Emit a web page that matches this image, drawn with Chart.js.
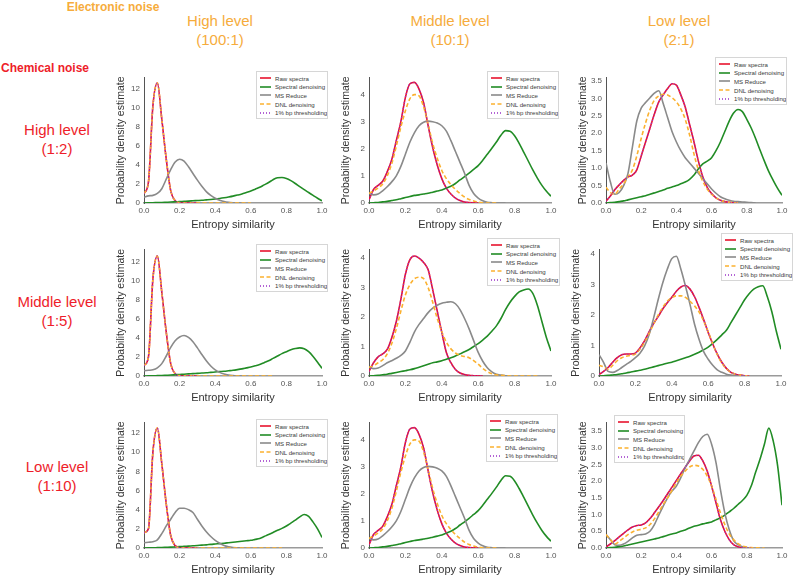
<!DOCTYPE html>
<html>
<head>
<meta charset="utf-8">
<script src="https://cdn.jsdelivr.net/npm/chart.js@4.4.1/dist/chart.umd.min.js"></script>
<style>
  body { margin: 0; background: #fff; width: 795px; height: 576px; position: relative; overflow: hidden;
         font-family: "Liberation Sans", Arial, sans-serif; }
  .txt { position: absolute; text-align: center; white-space: nowrap; transform: translateX(-50%); }
  .orange { color: #f6ac3c; }
  .red { color: #ee1d2a; }
  .big { font-size: 15px; line-height: 19px; }
  .head { font-weight: bold; font-size: 12px; line-height: 14px; }
  .legend { position: absolute; background: #fff; border: 1px solid #d6d6d6; box-sizing: border-box;
            padding: 2px 1px 1px 3px; font-size: 6.1px; color: #3a3a3a; overflow: hidden; }
  .legend .row { height: 8.6px; display: flex; align-items: center; white-space: nowrap; }
  .legend svg { display: block; margin-right: 4px; flex: none; }
</style>
</head>
<body>
<div class="txt orange head" style="left:113px;top:0px">Electronic noise</div>
<div class="txt orange big" style="left:220px;top:11px">High level<br>(100:1)</div>
<div class="txt orange big" style="left:450px;top:11px">Middle level<br>(10:1)</div>
<div class="txt orange big" style="left:679px;top:11px">Low level<br>(2:1)</div>
<div class="txt red head" style="left:45px;top:61px">Chemical noise</div>
<div class="txt red big" style="left:57px;top:120px">High level<br>(1:2)</div>
<div class="txt red big" style="left:57px;top:292px">Middle level<br>(1:5)</div>
<div class="txt red big" style="left:57px;top:457px">Low level<br>(1:10)</div>

<script>
// entropy similarity grid (step 0.025)
const xGrid = [0, 0.025, 0.05, 0.075, 0.1, 0.125, 0.15, 0.175, 0.2, 0.225, 0.25, 0.275, 0.3, 0.325, 0.35,
  0.375, 0.4, 0.425, 0.45, 0.475, 0.5, 0.525, 0.55, 0.575, 0.6, 0.625, 0.65, 0.675, 0.7, 0.725, 0.75,
  0.775, 0.8, 0.825, 0.85, 0.875, 0.9, 0.925, 0.95, 0.975, 1.0];

const seriesNames = ['Raw spectra', 'Spectral denoising', 'MS Reduce', 'DNL denoising', '1% bp thresholding'];

// chemical high / electronic high
const p11Raw = [1.0, 2.2, 10.2, 12.6, 8.8, 4.6, 1.3, 0.25, 0.04, 0.01, 0, 0, 0];
const p11Spec = [0, 0.015, 0.03, 0.045, 0.06, 0.08, 0.1, 0.125, 0.15, 0.175, 0.2, 0.23, 0.26, 0.29, 0.33, 0.37, 0.42, 0.48, 0.55, 0.63, 0.72, 0.83, 0.95, 1.1, 1.25, 1.45, 1.65, 1.9, 2.15, 2.45, 2.65, 2.68, 2.58, 2.35, 2.05, 1.72, 1.4, 1.1, 0.8, 0.5, 0.22];
const p11Ms = [0.6, 0.75, 0.8, 1.0, 1.5, 2.5, 3.5, 4.3, 4.6, 4.4, 3.8, 3.1, 2.4, 1.75, 1.2, 0.8, 0.5, 0.3, 0.15, 0.07, 0.03, 0.01, 0];
const p11Dnl = [1.0, 2.2, 10.2, 12.6, 8.8, 4.6, 1.3, 0.25, 0.04, 0.01, 0, 0, 0, 0, 0, 0, 0, 0, 0, 0, 0, 0, 0, 0, 0];

// chemical high / electronic middle
const p12Raw = [0.12, 0.5, 0.65, 0.8, 1.15, 1.6, 2.3, 3.0, 3.9, 4.4, 4.45, 4.2, 3.7, 2.85, 2.05, 1.4, 0.9, 0.55, 0.33, 0.18, 0.09, 0.04, 0.015, 0.005, 0];
const p12Spec = [0, 0.01, 0.02, 0.04, 0.06, 0.09, 0.12, 0.16, 0.2, 0.24, 0.28, 0.3, 0.33, 0.36, 0.4, 0.44, 0.48, 0.55, 0.62, 0.72, 0.85, 0.97, 1.1, 1.24, 1.38, 1.58, 1.8, 2.02, 2.25, 2.5, 2.67, 2.65, 2.48, 2.2, 1.88, 1.55, 1.22, 0.92, 0.65, 0.43, 0.25];
const p12Ms = [0.35, 0.3, 0.33, 0.45, 0.6, 0.78, 1.0, 1.35, 1.8, 2.25, 2.6, 2.85, 2.98, 3.02, 3.0, 2.95, 2.85, 2.65, 2.3, 1.9, 1.5, 1.1, 0.65, 0.35, 0.18, 0.08, 0.03, 0.01, 0, 0, 0];
const p12Dnl = [0.35, 0.45, 0.55, 0.7, 1.0, 1.45, 2.1, 2.8, 3.4, 3.85, 4.0, 3.95, 3.55, 2.9, 2.2, 1.65, 1.2, 0.9, 0.68, 0.5, 0.35, 0.22, 0.13, 0.07, 0.03, 0.01, 0, 0, 0];

// chemical high / electronic low
const p13Raw = [0.05, 0.2, 0.38, 0.52, 0.65, 0.75, 0.8, 0.95, 1.35, 1.75, 2.15, 2.55, 2.9, 3.1, 3.28, 3.42, 3.38, 3.1, 2.75, 2.25, 1.75, 1.2, 0.75, 0.45, 0.27, 0.15, 0.08, 0.04, 0.02, 0.005, 0];
const p13Spec = [0, 0.01, 0.02, 0.04, 0.06, 0.09, 0.12, 0.15, 0.18, 0.21, 0.25, 0.29, 0.33, 0.37, 0.42, 0.46, 0.5, 0.55, 0.6, 0.68, 0.8, 0.98, 1.12, 1.2, 1.3, 1.5, 1.75, 2.05, 2.35, 2.58, 2.68, 2.62, 2.4, 2.15, 1.85, 1.52, 1.2, 0.9, 0.65, 0.42, 0.22];
const p13Ms = [1.15, 0.6, 0.25, 0.3, 0.5, 0.85, 1.6, 2.35, 2.72, 2.88, 3.02, 3.15, 3.22, 2.85, 2.45, 2.05, 1.75, 1.5, 1.3, 1.15, 1.0, 0.85, 0.7, 0.55, 0.4, 0.28, 0.18, 0.12, 0.08, 0.05, 0.04, 0.03, 0.02, 0.01, 0];
const p13Dnl = [0.45, 0.3, 0.25, 0.4, 0.55, 0.75, 0.95, 1.35, 1.85, 2.3, 2.68, 2.95, 3.07, 3.12, 3.1, 3.02, 2.9, 2.7, 2.4, 1.95, 1.4, 0.95, 0.62, 0.4, 0.25, 0.15, 0.08, 0.04, 0.02, 0.01, 0];

// chemical middle / electronic high
const p21Raw = [1.1, 2.0, 10.2, 12.6, 8.8, 4.6, 1.3, 0.25, 0.04, 0.01, 0, 0, 0];
const p21Spec = [0, 0.01, 0.02, 0.035, 0.05, 0.075, 0.1, 0.13, 0.16, 0.19, 0.22, 0.25, 0.28, 0.31, 0.34, 0.38, 0.42, 0.46, 0.5, 0.55, 0.6, 0.67, 0.75, 0.85, 0.95, 1.07, 1.2, 1.4, 1.6, 1.85, 2.1, 2.35, 2.55, 2.75, 2.88, 2.95, 2.85, 2.55, 2.05, 1.45, 0.8];
const p21Ms = [0.55, 0.6, 0.65, 0.85, 1.3, 2.1, 3.0, 3.7, 4.1, 4.25, 4.05, 3.6, 2.95, 2.25, 1.6, 1.05, 0.65, 0.38, 0.2, 0.1, 0.05, 0.02, 0];
const p21Dnl = [1.1, 2.0, 10.2, 12.6, 8.8, 4.6, 1.3, 0.25, 0.04, 0.01, 0, 0, 0, 0, 0, 0, 0, 0, 0, 0, 0, 0, 0, 0, 0, 0, 0, 0, 0, 0];

// chemical middle / electronic middle
const p22Raw = [0.15, 0.45, 0.65, 0.75, 0.9, 1.3, 1.85, 2.6, 3.45, 3.95, 4.07, 4.0, 3.85, 3.6, 2.93, 2.2, 1.48, 0.8, 0.45, 0.22, 0.1, 0.05, 0.02, 0.01, 0.005, 0];
const p22Spec = [0, 0.01, 0.02, 0.04, 0.06, 0.09, 0.12, 0.15, 0.18, 0.21, 0.25, 0.3, 0.35, 0.4, 0.45, 0.48, 0.52, 0.57, 0.62, 0.68, 0.75, 0.82, 0.9, 1.0, 1.1, 1.22, 1.35, 1.52, 1.7, 1.95, 2.25, 2.5, 2.7, 2.85, 2.92, 2.95, 2.8, 2.4, 1.85, 1.3, 0.85];
const p22Ms = [0.3, 0.25, 0.27, 0.35, 0.45, 0.52, 0.6, 0.7, 0.85, 1.15, 1.5, 1.75, 1.95, 2.15, 2.3, 2.4, 2.47, 2.5, 2.52, 2.45, 2.25, 1.95, 1.6, 1.2, 0.8, 0.5, 0.28, 0.14, 0.06, 0.03, 0.01, 0];
const p22Dnl = [0.3, 0.35, 0.45, 0.55, 0.75, 1.1, 1.6, 2.2, 2.75, 3.1, 3.3, 3.35, 3.3, 3.0, 2.5, 1.95, 1.5, 1.15, 0.92, 0.78, 0.7, 0.66, 0.62, 0.52, 0.4, 0.26, 0.15, 0.08, 0.04, 0.02, 0.01, 0, 0, 0, 0, 0, 0, 0];

// chemical middle / electronic low
const p23Raw = [0.05, 0.15, 0.28, 0.45, 0.6, 0.7, 0.72, 0.72, 0.75, 0.92, 1.15, 1.45, 1.72, 1.95, 2.2, 2.4, 2.58, 2.78, 2.92, 2.97, 2.85, 2.6, 2.25, 1.85, 1.43, 1.05, 0.72, 0.45, 0.25, 0.12, 0.06, 0.03, 0.01, 0];
const p23Spec = [0, 0.01, 0.02, 0.035, 0.05, 0.075, 0.1, 0.13, 0.16, 0.19, 0.22, 0.26, 0.3, 0.34, 0.38, 0.42, 0.45, 0.5, 0.55, 0.6, 0.65, 0.71, 0.78, 0.86, 0.95, 1.07, 1.2, 1.35, 1.5, 1.75, 2.0, 2.25, 2.5, 2.7, 2.85, 2.93, 2.96, 2.6, 2.1, 1.45, 0.88];
const p23Ms = [0.7, 0.45, 0.15, 0.12, 0.18, 0.28, 0.38, 0.48, 0.6, 0.75, 0.98, 1.35, 1.9, 2.5, 3.05, 3.5, 3.85, 3.93, 3.5, 2.95, 2.35, 1.7, 1.2, 0.8, 0.55, 0.35, 0.2, 0.12, 0.06, 0.03, 0.015, 0.005, 0];
const p23Dnl = [0.35, 0.3, 0.22, 0.35, 0.5, 0.6, 0.65, 0.68, 0.72, 0.88, 1.1, 1.4, 1.7, 2.0, 2.25, 2.45, 2.57, 2.63, 2.63, 2.58, 2.45, 2.3, 2.1, 1.8, 1.45, 1.05, 0.7, 0.42, 0.24, 0.12, 0.06, 0.03, 0.01, 0];

// chemical low / electronic high
const p31Raw = [1.6, 2.0, 10.0, 12.5, 8.8, 4.6, 1.3, 0.25, 0.04, 0.01, 0, 0, 0];
const p31Spec = [0, 0.01, 0.02, 0.035, 0.05, 0.07, 0.09, 0.115, 0.14, 0.17, 0.2, 0.23, 0.26, 0.3, 0.33, 0.38, 0.42, 0.46, 0.5, 0.55, 0.6, 0.65, 0.7, 0.75, 0.8, 0.9, 1.0, 1.2, 1.4, 1.62, 1.85, 2.05, 2.3, 2.6, 2.9, 3.25, 3.5, 3.3, 2.7, 2.0, 1.1];
const p31Ms = [0.55, 0.6, 0.65, 0.85, 1.5, 2.3, 3.0, 3.7, 4.15, 4.15, 4.0, 3.7, 3.0, 2.3, 1.7, 1.2, 0.8, 0.5, 0.25, 0.12, 0.05, 0.02, 0];
const p31Dnl = [1.6, 2.0, 10.0, 12.5, 8.8, 4.6, 1.3, 0.25, 0.04, 0.01, 0, 0, 0, 0, 0, 0, 0, 0, 0, 0, 0, 0, 0, 0, 0, 0, 0, 0, 0, 0, 0, 0];

// chemical low / electronic middle
const p32Raw = [0.12, 0.5, 0.65, 0.8, 1.15, 1.6, 2.3, 3.0, 3.9, 4.4, 4.45, 4.2, 3.7, 2.85, 2.05, 1.4, 0.9, 0.55, 0.33, 0.18, 0.09, 0.04, 0.015, 0.005, 0];
const p32Spec = [0, 0.01, 0.02, 0.04, 0.06, 0.09, 0.12, 0.16, 0.2, 0.24, 0.28, 0.3, 0.33, 0.36, 0.4, 0.44, 0.48, 0.55, 0.62, 0.72, 0.85, 0.97, 1.1, 1.24, 1.38, 1.58, 1.8, 2.02, 2.25, 2.5, 2.67, 2.65, 2.48, 2.2, 1.88, 1.55, 1.22, 0.92, 0.65, 0.43, 0.25];
const p32Ms = [0.35, 0.3, 0.33, 0.45, 0.6, 0.78, 1.0, 1.35, 1.8, 2.25, 2.6, 2.85, 2.98, 3.02, 3.0, 2.95, 2.85, 2.65, 2.3, 1.9, 1.5, 1.1, 0.65, 0.35, 0.18, 0.08, 0.03, 0.01, 0, 0, 0];
const p32Dnl = [0.35, 0.45, 0.55, 0.7, 1.0, 1.45, 2.1, 2.8, 3.4, 3.85, 4.0, 3.95, 3.55, 2.9, 2.2, 1.65, 1.2, 0.9, 0.68, 0.5, 0.35, 0.22, 0.13, 0.07, 0.03, 0.01, 0, 0, 0];

// chemical low / electronic low
const p33Raw = [0.03, 0.12, 0.22, 0.33, 0.44, 0.54, 0.63, 0.67, 0.69, 0.75, 0.88, 1.05, 1.23, 1.42, 1.62, 1.82, 2.02, 2.22, 2.41, 2.6, 2.75, 2.77, 2.6, 2.3, 1.85, 1.35, 0.85, 0.5, 0.25, 0.1, 0.04, 0.015, 0.005, 0];
const p33Spec = [0, 0.01, 0.02, 0.04, 0.06, 0.09, 0.12, 0.15, 0.18, 0.21, 0.24, 0.27, 0.3, 0.34, 0.38, 0.42, 0.45, 0.5, 0.54, 0.6, 0.65, 0.68, 0.72, 0.75, 0.78, 0.84, 0.9, 0.98, 1.08, 1.18, 1.3, 1.42, 1.57, 1.85, 2.26, 2.65, 3.1, 3.58, 3.2, 2.46, 1.28];
const p33Ms = [0.4, 0.25, 0.1, 0.08, 0.12, 0.2, 0.3, 0.38, 0.4, 0.42, 0.5, 0.7, 0.98, 1.25, 1.5, 1.7, 1.85, 2.1, 2.4, 2.65, 2.9, 3.15, 3.33, 3.4, 3.1, 2.55, 1.75, 1.05, 0.55, 0.22, 0.1, 0.04, 0.01, 0];
const p33Dnl = [0.4, 0.25, 0.12, 0.2, 0.3, 0.4, 0.48, 0.53, 0.56, 0.6, 0.7, 0.87, 1.08, 1.3, 1.5, 1.72, 1.95, 2.15, 2.3, 2.42, 2.47, 2.45, 2.35, 2.15, 1.85, 1.45, 1.05, 0.7, 0.42, 0.25, 0.13, 0.06, 0.03, 0.01, 0.005, 0, 0];

// the 1% bp thresholding curve lies on top of the raw spectra curve in every panel
const series = [
  [p11Raw, p11Spec, p11Ms, p11Dnl, p11Raw],
  [p12Raw, p12Spec, p12Ms, p12Dnl, p12Raw],
  [p13Raw, p13Spec, p13Ms, p13Dnl, p13Raw],
  [p21Raw, p21Spec, p21Ms, p21Dnl, p21Raw],
  [p22Raw, p22Spec, p22Ms, p22Dnl, p22Raw],
  [p23Raw, p23Spec, p23Ms, p23Dnl, p23Raw],
  [p31Raw, p31Spec, p31Ms, p31Dnl, p31Raw],
  [p32Raw, p32Spec, p32Ms, p32Dnl, p32Raw],
  [p33Raw, p33Spec, p33Ms, p33Dnl, p33Raw]
];

// plot area (page px), y range and legend box per panel
const layout = [
  {L: 144, R: 322, T: 77,  B: 203, yMax: 13.15, yStep: 2,   yDec: 0, leg: [256, 71, 72]},
  {L: 369, R: 551, T: 77,  B: 203, yMax: 4.62,  yStep: 1,   yDec: 0, leg: [487, 71, 72]},
  {L: 606, R: 782, T: 77,  B: 203, yMax: 3.59,  yStep: 0.5, yDec: 1, leg: [715, 57, 72]},
  {L: 144, R: 322, T: 249, B: 376, yMax: 13.25, yStep: 2,   yDec: 0, leg: [256, 244, 72]},
  {L: 369, R: 551, T: 249, B: 376, yMax: 4.28,  yStep: 1,   yDec: 0, leg: [487, 238, 73]},
  {L: 599, R: 781, T: 249, B: 376, yMax: 4.14,  yStep: 1,   yDec: 0, leg: [721, 233, 72]},
  {L: 144, R: 322, T: 422, B: 548, yMax: 13.06, yStep: 2,   yDec: 0, leg: [256, 419, 72]},
  {L: 369, R: 551, T: 422, B: 548, yMax: 4.63,  yStep: 1,   yDec: 0, leg: [486, 414, 72]},
  {L: 606, R: 782, T: 422, B: 548, yMax: 3.74,  yStep: 0.5, yDec: 1, leg: [614, 415, 71]}
];

const lineStyles = [
  {color: '#e8132e', dash: [], width: 1.6},
  {color: '#218c25', dash: [], width: 1.6},
  {color: '#8a8a8a', dash: [], width: 1.6},
  {color: '#fbb12f', dash: [4, 2.5], width: 1.6},
  {color: '#9b30c8', dash: [1, 2], width: 1.3}
];

const Y_W = 32, X_H = 30, PAD_T = 8, PAD_R = 10;
const tickFont = {family: '"Liberation Sans", Arial, sans-serif', size: 8};
const titleFont = {family: '"Liberation Sans", Arial, sans-serif', size: 11};

layout.forEach((p, k) => {
  const w = p.R - p.L + Y_W + PAD_R;
  const h = p.B - p.T + PAD_T + X_H;
  const cv = document.createElement('canvas');
  cv.width = w; cv.height = h;
  cv.style.cssText = 'position:absolute;left:' + (p.L - Y_W) + 'px;top:' + (p.T - PAD_T) + 'px;width:' + w + 'px;height:' + h + 'px';
  document.body.appendChild(cv);

  const datasets = series[k].map((ys, i) => ({
    label: seriesNames[i],
    data: ys.map((y, j) => ({x: xGrid[j], y: y})),
    borderColor: lineStyles[i].color,
    borderWidth: lineStyles[i].width,
    borderDash: lineStyles[i].dash,
    pointRadius: 0,
    fill: false,
    cubicInterpolationMode: 'monotone',
    order: 5 - i
  }));

  new Chart(cv, {
    type: 'line',
    data: {datasets: datasets},
    options: {
      responsive: false,
      animation: false,
      devicePixelRatio: 1,
      layout: {padding: {top: PAD_T, right: PAD_R, left: 0, bottom: 0}},
      plugins: {legend: {display: false}, tooltip: {enabled: false}},
      scales: {
        x: {
          type: 'linear', min: 0, max: 1,
          grid: {display: false, drawTicks: false},
          border: {display: true, color: '#9a9a9a', width: 1.5},
          ticks: {stepSize: 0.2, autoSkip: false, maxRotation: 0, padding: 3, color: '#555', font: tickFont,
                  callback: v => v.toFixed(1)},
          title: {display: true, text: 'Entropy similarity', color: '#333', font: titleFont, padding: {top: 0, bottom: 1}},
          afterFit: s => { s.height = X_H; }
        },
        y: {
          min: 0, max: p.yMax,
          grid: {display: false, drawTicks: false},
          border: {display: true, color: '#555', width: 1},
          ticks: {stepSize: p.yStep, includeBounds: false, autoSkip: false, padding: 4, color: '#555', font: tickFont,
                  callback: v => v.toFixed(p.yDec)},
          title: {display: true, text: 'Probability density estimate', color: '#333',
                  font: {family: titleFont.family, size: 10.5}, padding: {top: 3, bottom: 0}},
          afterFit: s => { s.width = Y_W; }
        }
      }
    }
  });

  // legend box drawn inside the plot, as in the original figure
  const box = document.createElement('div');
  box.className = 'legend';
  box.style.left = p.leg[0] + 'px';
  box.style.top = p.leg[1] + 'px';
  box.style.width = p.leg[2] + 'px';
  seriesNames.forEach((name, i) => {
    const st = lineStyles[i];
    const row = document.createElement('div');
    row.className = 'row';
    row.innerHTML = '<svg width="11" height="4"><line x1="0" y1="2" x2="11" y2="2" stroke="' + st.color +
      '" stroke-width="' + st.width + '" stroke-dasharray="' + (st.dash.length ? st.dash.join(' ') : 'none') +
      '"/></svg><span>' + name + '</span>';
    box.appendChild(row);
  });
  document.body.appendChild(box);
});
</script>
</body>
</html>
